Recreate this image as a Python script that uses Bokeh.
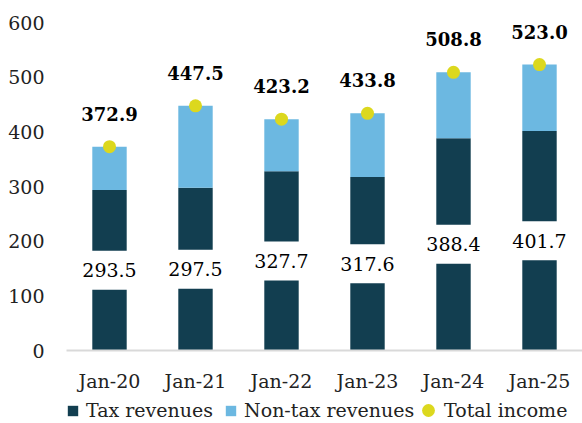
from bokeh.plotting import figure
from bokeh.models import ColumnDataSource, Range1d, Legend, LegendItem, FactorRange
from bokeh.layouts import column
from bokeh.core.properties import value
from bokeh.embed import file_html
from bokeh.resources import INLINE

categories = ["Jan-20", "Jan-21", "Jan-22", "Jan-23", "Jan-24", "Jan-25"]
tax_revenues = [293.5, 297.5, 327.7, 317.6, 388.4, 401.7]
total_income = [372.9, 447.5, 423.2, 433.8, 508.8, 523.0]
y_ticks = [0, 100, 200, 300, 400, 500, 600]
series_names = ["Tax revenues", "Non-tax revenues", "Total income"]

non_tax = [t - x for t, x in zip(total_income, tax_revenues)]
src = ColumnDataSource(dict(
    cat=categories,
    tax=tax_revenues,
    total=total_income,
    nontax=non_tax,
    mid=[x / 2 for x in tax_revenues],
    tax_lbl=[f"{x:.1f}" for x in tax_revenues],
    tot_lbl=[f"{x:.1f}" for x in total_income],
))

DARK = "#123e50"
LIGHT = "#6cb8e1"
YEL = "#dcd81e"
FONT = "DejaVu Serif"

p = figure(x_range=FactorRange(*categories, range_padding=0.0), y_range=Range1d(0, 600),
           width=582, height=394, frame_height=328,
           output_backend="svg", toolbar_location=None,
           min_border_left=66, min_border_top=22, min_border_right=0, min_border_bottom=0)
p.outline_line_color = None
p.grid.grid_line_color = None
p.background_fill_color = "white"

p.vbar(x="cat", top="tax", bottom=0, width=0.40, source=src, fill_color=DARK, line_color=None)
p.vbar(x="cat", top="total", bottom="tax", width=0.40, source=src, fill_color=LIGHT, line_color=None)

p.rect(x="cat", y="mid", width=0.5, height=39, height_units="screen", source=src,
       fill_color="white", line_color=None)
p.text(x="cat", y="mid", text="tax_lbl", source=src, text_align="center", text_baseline="middle",
       text_font=value(FONT), text_font_size="19px", text_color="#000000")

p.scatter(x="cat", y="total", source=src, size=13, fill_color=YEL, line_color=None)
p.text(x="cat", y="total", text="tot_lbl", source=src, text_align="center", text_baseline="middle",
       y_offset=-33, text_font=value(FONT), text_font_size="18px", text_font_style="bold",
       text_color="#000000")

p.yaxis.ticker = y_ticks
p.yaxis.axis_line_color = None
p.yaxis.major_tick_line_color = None
p.yaxis.major_tick_out = 0
p.yaxis.minor_tick_line_color = None
p.yaxis.major_label_text_font = FONT
p.yaxis.major_label_text_font_size = "19px"
p.yaxis.major_label_text_color = "#222222"
p.yaxis.major_label_standoff = 22

p.xaxis.axis_line_color = "#d9d9d9"
p.xaxis.axis_line_width = 2
p.xaxis.major_tick_line_color = None
p.xaxis.major_tick_out = 0
p.xaxis.minor_tick_line_color = None
p.xaxis.major_label_text_font = FONT
p.xaxis.major_label_text_font_size = "19px"
p.xaxis.major_label_text_color = "#222222"
p.xaxis.major_label_standoff = 19

# legend strip below the chart
lg = figure(width=582, height=29, x_range=Range1d(0, 1), y_range=Range1d(0, 1),
            x_axis_type=None, y_axis_type=None, output_backend="svg", toolbar_location=None,
            min_border=0)
lg.outline_line_color = None
lg.grid.grid_line_color = None
l_tax = lg.vbar(x=[-5], top=[-5], bottom=[-6], width=0.1, fill_color=DARK, line_color=None)
l_non = lg.vbar(x=[-5], top=[-5], bottom=[-6], width=0.1, fill_color=LIGHT, line_color=None)
l_tot = lg.scatter(x=[-5], y=[-5], size=13, fill_color=YEL, line_color=None)

legend_bars = Legend(items=[
    LegendItem(label=series_names[0], renderers=[l_tax]),
    LegendItem(label=series_names[1], renderers=[l_non]),
], orientation="horizontal", location=(0, 2),
    label_text_font=FONT, label_text_font_size="19px", label_text_color="#222222",
    glyph_width=13, glyph_height=13, label_standoff=7, spacing=11, padding=0, margin=0,
    label_height=20, border_line_color=None, background_fill_alpha=0)
lg.add_layout(legend_bars)

legend_dot = Legend(items=[
    LegendItem(label=series_names[2], renderers=[l_tot]),
], orientation="horizontal", location=(346, -3),
    label_text_font=FONT, label_text_font_size="19px", label_text_color="#222222",
    glyph_width=32, glyph_height=32, label_standoff=0, spacing=0, padding=0, margin=0,
    label_height=20, border_line_color=None, background_fill_alpha=0)
lg.add_layout(legend_dot)

open("out.html", "w").write(file_html(column(p, lg), INLINE))
